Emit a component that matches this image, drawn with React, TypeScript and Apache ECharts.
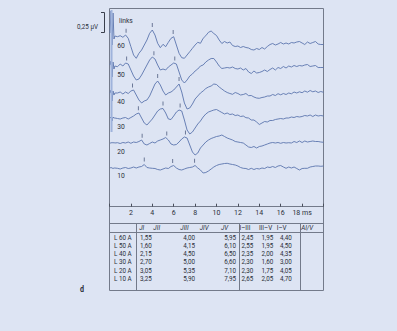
import React, { useEffect, useRef } from "react";
import * as echarts from "echarts";

// sampling times (ms)
const times = [
  0.5, 0.75, 1, 1.25, 1.5, 1.75, 2, 2.25, 2.5, 2.75,
  3, 3.25, 3.5, 3.75, 4, 4.25, 4.5, 4.75, 5, 5.25,
  5.5, 5.75, 6, 6.25, 6.5, 6.75, 7, 7.25, 7.5, 7.75,
  8, 8.25, 8.5, 8.75, 9, 9.25, 9.5, 9.75, 10, 10.25,
  10.5, 10.75, 11, 11.25, 11.5, 11.75, 12, 12.25, 12.5, 12.75,
  13, 13.25, 13.5, 13.75, 14, 14.25, 14.5, 14.75, 15, 15.25,
  15.5, 15.75, 16, 16.25, 16.5, 16.75, 17, 17.25, 17.5, 17.75,
  18, 18.25, 18.5, 18.75, 19, 19.25, 19.5, 19.75, 20,
];

// deflections (scaled units, 0.25 µV = 20.4 units)
const trace60 = [
  -3, -3.7, -2.7, -4.3, -2, -5.3, -13.7, -22, -25.3, -20.3,
  -17, -12, -7, -0.3, 3, -2, -10.3, -14.7, -11.3, -13.7,
  -9.3, -5.3, -3.7, -12, -20.3, -24.7, -25.3, -22, -18.7, -15.3,
  -12, -9.3, -10.3, -5.3, -2.7, 0.7, 2, -0.5, -2.5, -7,
  -10.5, -8.5, -10, -9, -12.5, -13.5, -13, -14.5, -13.5, -14.5,
  -15, -16.5, -17, -15.5, -16.5, -14.5, -16, -13.5, -11.5, -10.5,
  -12, -11, -9.5, -11, -10, -11, -9.5, -10, -9, -8.5,
  -10, -11.5, -9, -10.5, -9.5, -8.5, -11, -11.5, -11.5,
];
const trace50 = [
  -1, -1.7, 1, -1, 2, 1, -5, -11, -15, -14,
  -10, -5, 0, 5, 8, 6, 0, -5, -4, -5,
  -2, 0, 2, 1, -7, -15, -18, -15, -11, -9,
  -6, -4, -1, 0, 3, 5, 6.5, 6.5, 3, -1,
  -3.5, -3, -2.5, -3, -2, -3.5, -4, -3, -5, -3.5,
  -7, -8.5, -6, -8, -7.5, -6.5, -5, -6.5, -4.5, -3,
  -5, -2.5, -3.5, -1.5, -3, -1, -2, -0.5, -1.5, -0.5,
  -1, 0, 0.5, -1.5, -1, -0.5, -2.5, -2.5, -2.5,
];
const trace40 = [
  0, 0, 1, -1, 1, -0.5, 2, 3, -2, -7,
  -10, -8, -7, -3, 3, 9, 12, 8, 2, -2,
  0, 1, 3, 6, 9, 1, -10, -16, -15, -11,
  -6, -3, 0, 2, 4.5, 6, 7, 9, 8.5, 6,
  4, 2, 0.5, -0.5, -1.3, 0.5, -0.5, -2, -1.5, -0.5,
  -2.7, -2.5, -4, -5, -5.3, -4.5, -4, -3, -3, -1.5,
  -2.5, -0.7, -1.8, -0.5, -1.5, 0, -0.8, 1, 0, 1.2,
  0.3, 2, 0.8, 2.5, 1.2, 2, 0.5, 1.5, 0.7,
];
const trace30 = [
  0, -0.5, -1, 0, 0.5, -1, 0.5, 2, 4, 5,
  0, -5, -7, -4, -1, 3, 7, 9, 9.5, 5,
  -1, -1.5, 2, 6, 8, 7, -2, -12, -16, -14,
  -10, -6, -3, 1, 4, 6, 7, 8, 8.5, 7,
  5.5, 4, 5, 3.5, 4, 2.5, 3, 1.5, 2, 0.3,
  0, -2, -2, -4, -6.5, -5, -3.5, -4, -2.5, -2.5,
  -1.5, -1, -0.5, -1, 0, 0, 1, 0.5, 1.5, 1,
  1.5, 2.5, 2, 3, 1.5, 3, 2, 2.5, 2,
];
const trace20 = [
  0, 0.3, -0.5, 0.5, 0, 1, -0.3, 1, 0.5, 1.5,
  3, -1, -2, -0.5, 1, 0, 2, 3, 4, 5.5,
  3, -1, -2, -1.5, 1, 4, 6, 5, -2, -9,
  -12, -10, -5, -2, 1, 3, 4.5, 5.5, 6.5, 7,
  8, 6.5, 5, 4, 3, 1.5, 1, 0.5, 0, -2,
  -4, -4.5, -3.5, -5, -3.5, -3, -2, -1, 0, 0.5,
  0, 0.5, -0.3, 0.5, 0, 0.3, 0, 1.5, 0.5, 2,
  0.5, 2, 1, 1.5, 2, 1.5, 1.5, 1, 0.7,
];
const trace10 = [
  0, -0.3, -1, 0, 0.5, -0.5, 0, 1, 0, 1,
  1.5, 3.5, 0.5, 0, -0.3, -0.5, -1.5, -2, -1, 0,
  -0.5, 1.5, 2.5, 0, -1.5, -2, -1, 0, 0.5, 1,
  2.5, 0, -2, -5, -4.5, -3, -1, 1, 2.5, 3.5,
  4, 4.5, 4.7, 4, 3.5, 3, 2, 0.5, -0.3, -0.5,
  -1.5, -0.3, -1.5, -0.5, -1, 0, -0.5, 1, 0.5, 1.5,
  0.5, 2, 2.5, 1, -0.3, 1, 0, 1, -0.5, -2,
  -0.5, -0.3, -0.3, 1, 1.5, 2, 2, 1.7, 2,
];

// stimulus artefact at the start of each trace
const artifactTimes = [0.05, 0.14, 0.24, 0.33, 0.42];
const artifact60 = [0, 22, -12, 20, -6];
const artifact50 = [0, 4, -12, 3, -4];
const artifact40 = [0, 3, -8, 2, -2];
const artifact30 = [0, 1, -3, 1, 0];
const artifact20 = [0, 0, 0.5, 0, 0.5];
const artifact10 = [0, 0.5, 0, -0.5, 0];
const artifactLineTimes = [0.19, 0.19];
const artifactLineValues = [196.7, 74.7];

const levels = ["60", "50", "40", "30", "20", "10"];
const baselineOffsets = [173.7, 141.7, 113.7, 88.7, 63.7, 38.7];

// table
const rowLabels = ["L 60 A", "L 50 A", "L 40 A", "L 30 A", "L 20 A", "L 10 A"];
const latI = [1.55, 1.6, 2.15, 2.7, 3.05, 3.25];
const latIII = [4.0, 4.15, 4.5, 5.0, 5.35, 5.9];
const latV = [5.95, 6.1, 6.5, 6.6, 7.1, 7.95];
const ipI_III = [2.45, 2.55, 2.35, 2.3, 2.3, 2.65];
const ipIII_V = [1.95, 1.95, 2.0, 1.6, 1.75, 2.05];
const ipI_V = [4.4, 4.5, 4.35, 3.0, 4.05, 4.7];
const headerLabels = ["JI", "JII", "JIII", "JIV", "JV", "I–III", "III–V", "I–V", "AI/V"];

const FONT = "Roboto, 'Liberation Sans', sans-serif";
const TXT = "#2b2f3a";
const LINE = "#5b75ae";
const FRAME = "#737a8a";
const BG = "#dde4f3";
const SX = 0.84;

const traces = [trace60, trace50, trace40, trace30, trace20, trace10];
const artifacts = [artifact60, artifact50, artifact40, artifact30, artifact20, artifact10];

function interp(vals: number[], t: number) {
  for (let i = 0; i < times.length - 1; i++) {
    if (t >= times[i] && t <= times[i + 1]) {
      const f = (t - times[i]) / (times[i + 1] - times[i]);
      return vals[i] + f * (vals[i + 1] - vals[i]);
    }
  }
  return vals[0];
}

const fmt = (v: number) => v.toFixed(2).replace(".", ",");

export default function App() {
  const ref = useRef<HTMLDivElement>(null);
  useEffect(() => {
    if (!ref.current) return;
    const chart = echarts.init(ref.current, undefined, { renderer: "svg" });

    const series: any[] = [];
    traces.forEach((tr, k) => {
      const off = baselineOffsets[k];
      const data: number[][] = [];
      artifactTimes.forEach((t, i) => data.push([t, artifacts[k][i] + off]));
      times.forEach((t, i) => data.push([t, tr[i] + off]));
      series.push({
        type: "line",
        name: levels[k],
        data,
        showSymbol: false,
        lineStyle: { color: LINE, width: 0.9 },
        silent: true,
      });
    });
    series.push({
      type: "line",
      data: artifactLineTimes.map((t, i) => [t, artifactLineValues[i]]),
      showSymbol: false,
      lineStyle: { color: "#9fb3dc", width: 2 },
      silent: true,
    });
    const markers: number[][] = [];
    traces.forEach((tr, k) => {
      [latI[k], latIII[k], latV[k]].forEach((lat) => {
        markers.push([lat, interp(tr, lat) + baselineOffsets[k]]);
      });
    });
    series.push({
      type: "scatter",
      data: markers,
      symbol: "rect",
      symbolSize: [1, 4],
      symbolOffset: [0, -5],
      itemStyle: { color: "#4f5d80" },
      silent: true,
    });

    const g: any[] = [];
    const text = (t: string, x: number, y: number, align: string, extra: any = {}) =>
      g.push({
        type: "text",
        x,
        y,
        scaleX: SX,
        silent: true,
        style: {
          text: t,
          fill: TXT,
          fontSize: 7.5,
          fontFamily: FONT,
          textAlign: align,
          textVerticalAlign: "middle",
          verticalAlign: "middle",
          ...extra,
        },
      });
    const line = (x1: number, y1: number, x2: number, y2: number) =>
      g.push({
        type: "line",
        silent: true,
        shape: { x1, y1, x2, y2 },
        style: { stroke: FRAME, lineWidth: 1 },
      });

    // frame and table lines
    g.push({
      type: "rect",
      silent: true,
      shape: { x: 109.5, y: 8.5, width: 214, height: 282 },
      style: { fill: "none", stroke: FRAME, lineWidth: 1 },
    });
    line(109.5, 223.5, 323.5, 223.5);
    line(109.5, 232.5, 323.5, 232.5);
    line(136.5, 223.5, 136.5, 290.5);
    line(239.5, 223.5, 239.5, 290.5);
    line(300.5, 223.5, 300.5, 290.5);

    // scale bar
    g.push({
      type: "polyline",
      silent: true,
      shape: { points: [[101, 12.5], [104.5, 12.5], [104.5, 32.5], [101, 32.5]] },
      style: { fill: "none", stroke: "#3a3f4c", lineWidth: 1 },
    });
    text("0,25 µV", 98, 27, "right");
    text("links", 119, 20, "left", { fontSize: 8 });
    const labelY = [45, 74, 101, 126, 151, 175];
    levels.forEach((l, i) => text(l, 121, labelY[i], "center", { fontSize: 8 }));

    // header
    const headerX = [141.7, 156.7, 184.5, 204.2, 224.5, 245, 265.5, 281.7, 307.2];
    headerLabels.forEach((h, i) =>
      text(h, headerX[i], 228.2, "center", i < 5 || i === 8 ? { fontStyle: "italic" } : {})
    );
    const rowY0 = 237.7;
    const rowStep = 8.2;
    rowLabels.forEach((r, i) => {
      const y = rowY0 + i * rowStep;
      text(r, 114, y, "left");
      text(fmt(latI[i]), 140, y, "left");
      text(fmt(latIII[i]), 195, y, "right");
      text(fmt(latV[i]), 236, y, "right");
      text(fmt(ipI_III[i]), 241.5, y, "left");
      text(fmt(ipIII_V[i]), 261.5, y, "left");
      text(fmt(ipI_V[i]), 280, y, "left");
    });
    text("d", 82, 289, "center", { fontWeight: "bold", fontSize: 8.5 });

    chart.setOption({
      animation: false,
      backgroundColor: BG,
      grid: { left: 109.5, right: 73.5, top: 8, bottom: 124.3 },
      xAxis: {
        type: "value",
        min: 0,
        max: 20,
        interval: 2,
        axisLine: { lineStyle: { color: FRAME, width: 1 } },
        axisTick: { inside: true, length: 3, lineStyle: { color: "#4a4f5c" } },
        splitLine: { show: false },
        axisLabel: {
          fontSize: 7,
          fontFamily: FONT,
          color: TXT,
          margin: 3,
          formatter: (v: number) => (v === 0 || v === 20 ? "" : v === 18 ? "18 ms" : String(v)),
        },
      },
      yAxis: { type: "value", min: 0, max: 198.7, show: false },
      series,
      graphic: g,
    });
    return () => chart.dispose();
  }, []);
  return (
    <div
      ref={ref}
      style={{ position: "fixed", left: 0, top: 0, width: 397, height: 331, background: BG }}
    />
  );
}
